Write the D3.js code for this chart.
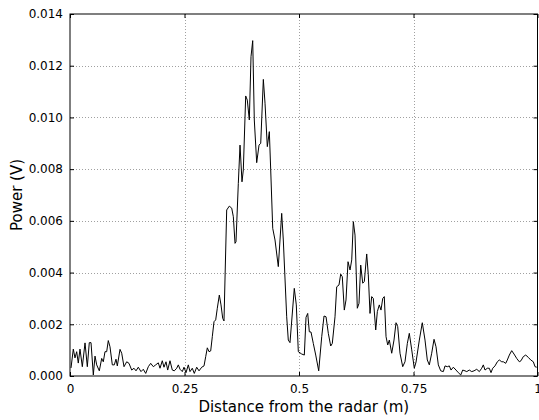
<!DOCTYPE html>
<html>
<head>
<meta charset="utf-8">
<script src="https://cdn.jsdelivr.net/npm/d3@7"></script>
<style>
  body { margin: 0; background: #fff; }
  text { font-family: "DejaVu Sans", sans-serif; }
</style>
</head>
<body>
<svg id="vis" width="539" height="420"></svg>
<script>
// data: distance (m) and power (V)
var distance = [0.0022,0.0072,0.0109,0.0146,0.0181,0.0218,0.0269,0.0328,0.0378,0.0421,0.0459,0.0509,0.0546,0.0583,0.0640,0.0692,0.0727,0.0764,0.0801,0.0836,0.0873,0.0924,0.0967,0.1004,0.1033,0.1092,0.1129,0.1179,0.1238,0.1288,0.1347,0.1397,0.1441,0.1491,0.1550,0.1600,0.1653,0.1710,0.1762,0.1819,0.1871,0.1928,0.1965,0.2015,0.2052,0.2096,0.2133,0.2183,0.2234,0.2277,0.2330,0.2365,0.2402,0.2452,0.2489,0.2533,0.2583,0.2620,0.2670,0.2714,0.2766,0.2817,0.2876,0.2926,0.2963,0.2998,0.3035,0.3072,0.3107,0.3144,0.3181,0.3216,0.3260,0.3297,0.3334,0.3362,0.3421,0.3478,0.3531,0.3566,0.3603,0.3624,0.3675,0.3712,0.3755,0.3784,0.3836,0.3871,0.3915,0.3952,0.3989,0.4024,0.4076,0.4127,0.4164,0.4221,0.4258,0.4308,0.4352,0.4382,0.4426,0.4476,0.4548,0.4585,0.4622,0.4657,0.4731,0.4766,0.4803,0.4897,0.4941,0.4985,0.5059,0.5116,0.5153,0.5190,0.5225,0.5262,0.5312,0.5365,0.5430,0.5496,0.5546,0.5590,0.5640,0.5692,0.5727,0.5786,0.5823,0.5873,0.5910,0.5945,0.5989,0.6026,0.6070,0.6114,0.6151,0.6186,0.6223,0.6273,0.6310,0.6347,0.6391,0.6426,0.6478,0.6513,0.6550,0.6587,0.6622,0.6675,0.6710,0.6753,0.6790,0.6828,0.6862,0.6900,0.6937,0.6972,0.7024,0.7074,0.7118,0.7155,0.7205,0.7264,0.7314,0.7365,0.7408,0.7461,0.7517,0.7555,0.7627,0.7692,0.7751,0.7801,0.7845,0.7897,0.7948,0.7991,0.8042,0.8094,0.8151,0.8188,0.8238,0.8282,0.8319,0.8369,0.8428,0.8478,0.8531,0.8574,0.8624,0.8662,0.8718,0.8771,0.8821,0.8880,0.8937,0.8989,0.9024,0.9061,0.9111,0.9155,0.9192,0.9229,0.9279,0.9330,0.9373,0.9426,0.9461,0.9513,0.9548,0.9592,0.9644,0.9694,0.9753,0.9810,0.9847,0.9897,0.9950,1.0007,1.0059,1.0116,1.0153,1.0190];
var power = [0.00031,0.00104,0.00070,0.00094,0.00050,0.00104,0.00036,0.00128,0.00036,0.00129,0.00129,0.00004,0.00077,0.00043,0.00020,0.00068,0.00055,0.00094,0.00094,0.00137,0.00113,0.00043,0.00043,0.00065,0.00039,0.00103,0.00088,0.00036,0.00055,0.00049,0.00023,0.00030,0.00020,0.00034,0.00017,0.00026,0.00010,0.00036,0.00049,0.00036,0.00043,0.00051,0.00030,0.00059,0.00034,0.00055,0.00023,0.00059,0.00023,0.00020,0.00030,0.00043,0.00026,0.00017,0.00034,0.00013,0.00043,0.00017,0.00030,0.00010,0.00034,0.00020,0.00034,0.00039,0.00075,0.00109,0.00094,0.00097,0.00152,0.00210,0.00217,0.00262,0.00313,0.00275,0.00223,0.00213,0.00642,0.00657,0.00649,0.00616,0.00513,0.00519,0.00745,0.00893,0.00751,0.00797,0.01083,0.01067,0.00990,0.01235,0.01297,0.00990,0.00825,0.00893,0.00900,0.01147,0.01055,0.00887,0.00945,0.00797,0.00571,0.00526,0.00423,0.00526,0.00629,0.00526,0.00229,0.00139,0.00129,0.00339,0.00275,0.00094,0.00085,0.00081,0.00227,0.00242,0.00171,0.00170,0.00126,0.00081,0.00020,0.00152,0.00232,0.00229,0.00165,0.00116,0.00126,0.00229,0.00345,0.00352,0.00394,0.00384,0.00255,0.00294,0.00442,0.00410,0.00449,0.00597,0.00545,0.00262,0.00281,0.00429,0.00359,0.00365,0.00472,0.00391,0.00242,0.00307,0.00300,0.00178,0.00249,0.00275,0.00255,0.00300,0.00307,0.00152,0.00120,0.00139,0.00088,0.00139,0.00206,0.00191,0.00088,0.00036,0.00055,0.00126,0.00165,0.00101,0.00030,0.00054,0.00139,0.00206,0.00139,0.00062,0.00043,0.00088,0.00142,0.00113,0.00043,0.00020,0.00017,0.00039,0.00036,0.00039,0.00023,0.00034,0.00023,0.00013,0.00004,0.00023,0.00020,0.00017,0.00023,0.00017,0.00020,0.00026,0.00017,0.00030,0.00043,0.00023,0.00030,0.00030,0.00013,0.00030,0.00039,0.00055,0.00062,0.00055,0.00055,0.00049,0.00062,0.00081,0.00098,0.00085,0.00068,0.00055,0.00059,0.00075,0.00081,0.00072,0.00062,0.00055,0.00036,0.00034];

var xMax = 1.0207;
var xTicks = [0, 0.25, 0.5, 0.75, xMax];
var xTickLabels = ["0", "0.25", "0.5", "0.75", "1"];
var yTicks = [0, 0.002, 0.004, 0.006, 0.008, 0.010, 0.012, 0.014];

var svg = d3.select("#vis");
var margin = {top: 14, right: 1.5, bottom: 44, left: 70};
var width = 539 - margin.left - margin.right;
var height = 420 - margin.top - margin.bottom;

var x = d3.scaleLinear().domain([0, xMax]).range([0, width]);
var y = d3.scaleLinear().domain([0, 0.014]).range([height, 0]);

var g = svg.append("g").attr("transform", "translate(" + margin.left + "," + margin.top + ")");

// dotted grid
g.append("g").selectAll("line.vg")
  .data(xTicks.slice(1, -1))
  .enter().append("line")
  .attr("x1", function(d){ return Math.round(x(d)) + 0.5; })
  .attr("x2", function(d){ return Math.round(x(d)) + 0.5; })
  .attr("y1", 0).attr("y2", height)
  .attr("stroke", "#888").attr("stroke-width", 0.8)
  .attr("stroke-dasharray", "1,2");

g.append("g").selectAll("line.hg")
  .data(yTicks.slice(1, -1))
  .enter().append("line")
  .attr("y1", function(d){ return Math.round(y(d)) + 0.5; })
  .attr("y2", function(d){ return Math.round(y(d)) + 0.5; })
  .attr("x1", 0).attr("x2", width)
  .attr("stroke", "#888").attr("stroke-width", 0.8)
  .attr("stroke-dasharray", "1,2");

// the trace
var pts = distance.map(function(d, i){ return [d, power[i]]; });
var line = d3.line()
  .x(function(d){ return x(d[0]); })
  .y(function(d){ return y(d[1]); });

g.append("path")
  .datum(pts)
  .attr("fill", "none")
  .attr("stroke", "#000")
  .attr("stroke-width", 1)
  .attr("stroke-linejoin", "round")
  .attr("d", line);

// axes, ticks pointing inward
var xAxis = g.append("g")
  .attr("transform", "translate(0," + height + ")")
  .call(d3.axisBottom(x).tickValues(xTicks)
    .tickFormat(function(d, i){ return xTickLabels[i]; })
    .tickSize(-4).tickPadding(8));
xAxis.selectAll("text").attr("font-size", 12).attr("fill", "#000");

var yAxis = g.append("g")
  .call(d3.axisLeft(y).tickValues(yTicks)
    .tickFormat(d3.format(".3f"))
    .tickSize(-4).tickPadding(7));
yAxis.selectAll("text").attr("font-size", 12).attr("fill", "#000");

g.append("g")
  .call(d3.axisTop(x).tickValues(xTicks).tickFormat("").tickSize(-4));
g.append("g")
  .attr("transform", "translate(" + width + ",0)")
  .call(d3.axisRight(y).tickValues(yTicks).tickFormat("").tickSize(-4));

g.selectAll(".domain").remove();
g.selectAll(".tick line").attr("stroke", "#000");

// frame
g.append("rect")
  .attr("x", 0).attr("y", 0)
  .attr("width", width).attr("height", height)
  .attr("fill", "none").attr("stroke", "#000").attr("stroke-width", 1);

// axis titles
svg.append("text")
  .attr("x", margin.left + width / 2)
  .attr("y", 412)
  .attr("text-anchor", "middle")
  .attr("font-size", 15)
  .text("Distance from the radar (m)");

svg.append("text")
  .attr("transform", "translate(22," + (margin.top + height / 2) + ") rotate(-90)")
  .attr("text-anchor", "middle")
  .attr("font-size", 15)
  .text("Power (V)");
</script>
</body>
</html>
